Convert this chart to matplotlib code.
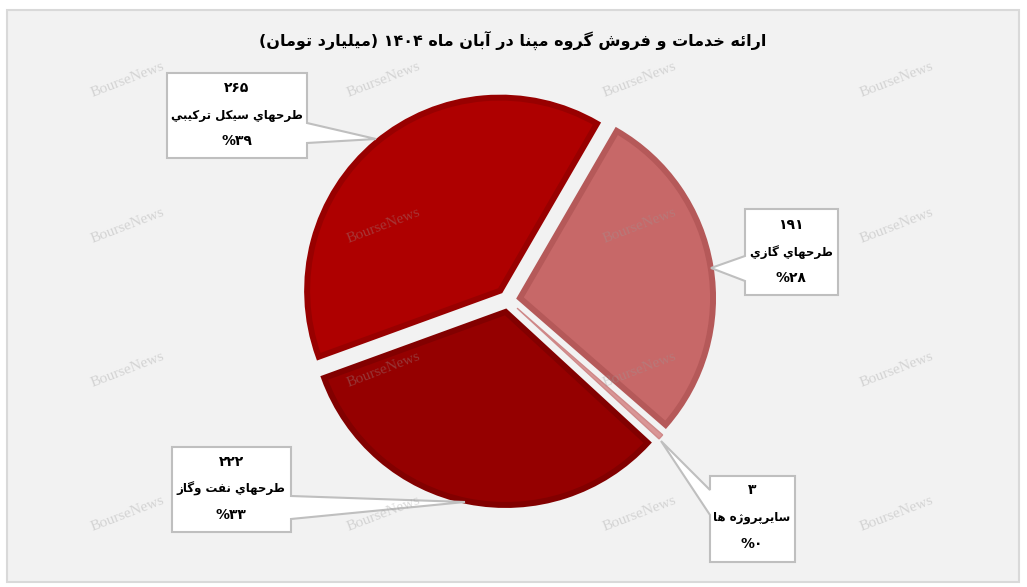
import re
import matplotlib
matplotlib.use("Agg")
import matplotlib.pyplot as plt
from matplotlib.patches import Rectangle, Polygon

# حروف فارسی: isolated, final, initial, medial
FORMS = {
    'ا': ('\uFE8D', '\uFE8E'), 'آ': ('\uFE81', '\uFE82'),
    'د': ('\uFEA9', '\uFEAA'), 'ذ': ('\uFEAB', '\uFEAC'),
    'ر': ('\uFEAD', '\uFEAE'), 'ز': ('\uFEAF', '\uFEB0'),
    'ژ': ('\uFB8A', '\uFB8B'), 'و': ('\uFEED', '\uFEEE'),
    'ب': ('\uFE8F', '\uFE90', '\uFE91', '\uFE92'),
    'پ': ('\uFB56', '\uFB57', '\uFB58', '\uFB59'),
    'ت': ('\uFE95', '\uFE96', '\uFE97', '\uFE98'),
    'ج': ('\uFE9D', '\uFE9E', '\uFE9F', '\uFEA0'),
    'ح': ('\uFEA1', '\uFEA2', '\uFEA3', '\uFEA4'),
    'خ': ('\uFEA5', '\uFEA6', '\uFEA7', '\uFEA8'),
    'س': ('\uFEB1', '\uFEB2', '\uFEB3', '\uFEB4'),
    'ش': ('\uFEB5', '\uFEB6', '\uFEB7', '\uFEB8'),
    'ط': ('\uFEC1', '\uFEC2', '\uFEC3', '\uFEC4'),
    'ف': ('\uFED1', '\uFED2', '\uFED3', '\uFED4'),
    'ك': ('\uFED9', '\uFEDA', '\uFEDB', '\uFEDC'),
    'گ': ('\uFB92', '\uFB93', '\uFB94', '\uFB95'),
    'ل': ('\uFEDD', '\uFEDE', '\uFEDF', '\uFEE0'),
    'م': ('\uFEE1', '\uFEE2', '\uFEE3', '\uFEE4'),
    'ن': ('\uFEE5', '\uFEE6', '\uFEE7', '\uFEE8'),
    'ه': ('\uFEE9', '\uFEEA', '\uFEEB', '\uFEEC'),
    'ي': ('\uFEF1', '\uFEF2', '\uFEF3', '\uFEF4'),
    'ئ': ('\uFE89', '\uFE8A', '\uFE8B', '\uFE8C'),
}


def shape(s):
    out = []
    for i, ch in enumerate(s):
        if ch not in FORMS:
            out.append(ch)
            continue
        f = FORMS[ch]
        prev = s[i - 1] if i > 0 else ''
        nxt = s[i + 1] if i + 1 < len(s) else ''
        jp = prev in FORMS and len(FORMS[prev]) == 4
        jn = len(f) == 4 and nxt in FORMS
        if jp and jn:
            out.append(f[3])
        elif jp:
            out.append(f[1])
        elif jn:
            out.append(f[2])
        else:
            out.append(f[0])
    return ''.join(out)


def rtl(s):
    # شکل دادن و برعکس کردن، اعداد از چپ به راست می مانند
    t = shape(s)
    runs = re.findall(r'[0-9۰-۹]+|[^0-9۰-۹]', t)
    mirror = {'(': ')', ')': '('}
    return ''.join(r if r[0].isdigit() else mirror.get(r, r) for r in reversed(runs))


title = "ارائه خدمات و فروش گروه مپنا در آبان ماه ۱۴۰۴ (ميليارد تومان)"
categories = ["طرحهاي سيكل تركيبي", "طرحهاي گازي", "سايرپروژه ها", "طرحهاي نفت وگاز"]
values = [265, 191, 3, 222]
value_labels = ["۲۶۵", "۱۹۱", "۳", "۲۲۲"]
pct_labels = ["%۳۹", "%۲۸", "%۰", "%۳۳"]

fills = ["#AE0000", "#C76868", "#D99595", "#950000"]
edges = ["#980000", "#B55959", "#CF8888", "#820000"]
edge_w = [4.3, 4.3, 1.0, 4.3]

W, H = 1027, 587
fig = plt.figure(figsize=(W / 100, H / 100), dpi=100)
fig.patch.set_facecolor("white")

# background panel
bg = fig.add_axes([0, 0, 1, 1], zorder=0)
bg.set_xlim(0, W)
bg.set_ylim(H, 0)
bg.axis("off")
bg.add_patch(Rectangle((7, 10), 1012, 572, facecolor="#F2F2F2", edgecolor="#D9D9D9", lw=1.5))

# pie axes: center (508, 300) px, radius 196 px
cx, cy, R = 508, 300, 196
ax = fig.add_axes([(cx - R) / W, (H - cy - R) / H, 2 * R / W, 2 * R / H], zorder=1)
wedges, _ = ax.pie(values, startangle=200, counterclock=False, colors=fills,
                   explode=[0.062] * 4, radius=0.985,
                   wedgeprops=dict(joinstyle="miter"))
for w, ec, lw in zip(wedges, edges, edge_w):
    w.set_edgecolor(ec)
    w.set_linewidth(lw)
    w.set_clip_on(False)
ax.set_xlim(-1, 1)
ax.set_ylim(-1, 1)
ax.axis("off")

# overlay: callouts, text, watermark
ov = fig.add_axes([0, 0, 1, 1], zorder=2)
ov.set_xlim(0, W)
ov.set_ylim(H, 0)
ov.axis("off")
ov.patch.set_alpha(0)

callouts = [
    [(167, 73), (307, 73), (307, 123), (376, 139), (307, 143), (307, 158), (167, 158)],
    [(745, 209), (838, 209), (838, 295), (745, 295), (745, 281), (711, 268), (745, 256)],
    [(710, 476), (795, 476), (795, 562), (710, 562), (710, 515), (661, 441), (710, 490)],
    [(172, 447), (291, 447), (291, 496), (465, 502), (291, 519), (291, 532), (172, 532)],
]
text_pos = [(237, [88, 115, 141]), (791, [225, 252, 278]),
            (752, [490, 517, 544]), (231, [462, 489, 515])]

for poly, (tx, tys), cat, v, p in zip(callouts, text_pos, categories, value_labels, pct_labels):
    ov.add_patch(Polygon(poly, closed=True, facecolor="white", edgecolor="#BFBFBF", lw=1.5))
    for ty, s, fs in zip(tys, [v, rtl(cat), p], [10, 8.5, 10]):
        ov.text(tx, ty, s, ha="center", va="center", fontsize=fs, fontweight="bold",
                family="DejaVu Sans", color="black")

ov.text(513, 40, rtl(title), ha="center", va="center", fontsize=11.5, fontweight="bold",
        family="DejaVu Sans", color="black")

for wy in [80, 226, 370, 514]:
    for wx in [128, 384, 640, 897]:
        ov.text(wx, wy, "BourseNews", ha="center", va="center", fontsize=11,
                family="Liberation Serif", color="#9A9A9A", alpha=0.35, rotation=21)

fig.savefig("out.png", dpi=100)
